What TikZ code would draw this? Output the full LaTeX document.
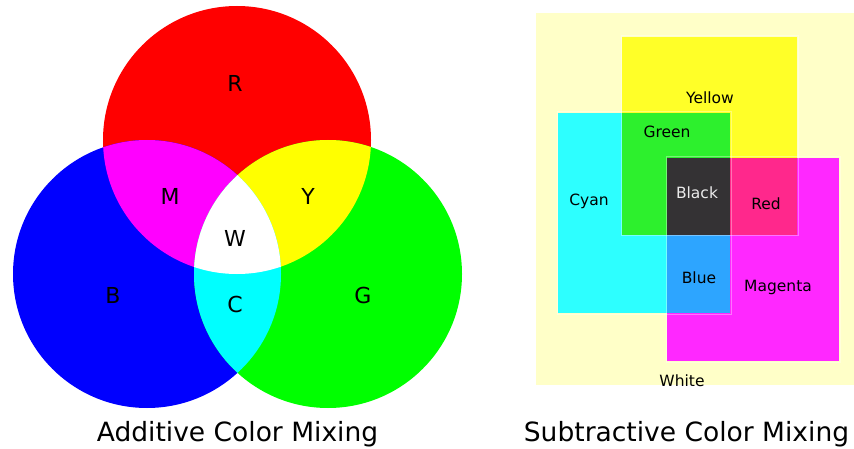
\documentclass[tikz,border=0pt]{standalone}
\usepackage{fontspec}
\setmainfont{DejaVu Sans}
\definecolor{lightR}{RGB}{255,0,0}
\definecolor{lightG}{RGB}{0,255,0}
\definecolor{lightB}{RGB}{0,0,255}
\definecolor{lightC}{RGB}{0,255,255}
\definecolor{lightM}{RGB}{255,0,255}
\definecolor{lightY}{RGB}{255,255,0}
\definecolor{paper}{RGB}{255,255,200}
\definecolor{inkY}{RGB}{255,255,40}
\definecolor{inkC}{RGB}{45,255,255}
\definecolor{inkM}{RGB}{255,40,255}
\definecolor{mixG}{RGB}{45,240,45}
\definecolor{mixR}{RGB}{255,40,140}
\definecolor{mixB}{RGB}{45,165,255}
\definecolor{mixK}{RGB}{52,50,52}
\definecolor{labelK}{RGB}{235,235,235}
\tikzset{
  big/.style={font=\fontsize{22}{22}\selectfont, anchor=base, inner sep=0pt},
  small/.style={font=\fontsize{15.5}{15.5}\selectfont, anchor=base, inner sep=0pt},
  caption/.style={font=\fontsize{26.5}{26.5}\selectfont, anchor=base, inner sep=0pt},
  sheet/.style={draw=white, draw opacity=0.35, line width=1pt}
}
\begin{document}
\begin{tikzpicture}[x=1pt,y=-1pt]
\useasboundingbox (0,0) rectangle (854,449);
\fill[white] (0,0) rectangle (854,449);

% ---- additive mixing: three light circles ----
\def\rad{134}
\coordinate (cR) at (237,140);
\coordinate (cB) at (147,274);
\coordinate (cG) at (328,274);
\fill[lightR] (cR) circle (\rad);
\fill[lightB] (cB) circle (\rad);
\fill[lightG] (cG) circle (\rad);
\begin{scope}
  \clip (cR) circle (\rad);
  \fill[lightM] (cB) circle (\rad);
  \fill[lightY] (cG) circle (\rad);
\end{scope}
\begin{scope}
  \clip (cB) circle (\rad);
  \fill[lightC] (cG) circle (\rad);
  \clip (cG) circle (\rad);
  \fill[white] (cR) circle (\rad);
\end{scope}

\node[big] (lR) at (235,92)  {R};
\node[big] (lM) at (170,205) {M};
\node[big] (lY) at (308,205) {Y};
\node[big] (lW) at (235,247) {W};
\node[big] (lB) at (113,303) {B};
\node[big] (lC) at (235,312) {C};
\node[big] (lG) at (363,303) {G};

\node[caption] (capA) at (237.5,441) {Additive Color Mixing};

% ---- subtractive mixing: three ink sheets on paper ----
\fill[paper] (536,13) rectangle (854,385);
\fill[inkY] (622,37)  rectangle (797,235);
\fill[inkC] (558,113) rectangle (730,313);
\fill[inkM] (667,158) rectangle (839,361);
\fill[mixG] (622,113) rectangle (730,235);
\fill[mixR] (730,158) rectangle (797,235);
\fill[mixB] (667,235) rectangle (730,313);
\fill[mixK] (667,158) rectangle (730,235);
\draw[sheet] (621,36)  rectangle (798,236);
\draw[sheet] (557,112) rectangle (731,314);
\draw[sheet] (666,157) rectangle (840,362);

\node[small] (tY) at (710,104) {Yellow};
\node[small] (tG) at (667,138) {Green};
\node[small] (tC) at (589,206) {Cyan};
\node[small, text=labelK] (tK) at (697,199) {Black};
\node[small] (tR) at (766,210) {Red};
\node[small] (tB) at (699,283) {Blue};
\node[small] (tM) at (778,291) {Magenta};
\node[small] (tW) at (682,386) {White};

\node[caption] (capS) at (686.5,441) {Subtractive Color Mixing};
\end{tikzpicture}
\end{document}
